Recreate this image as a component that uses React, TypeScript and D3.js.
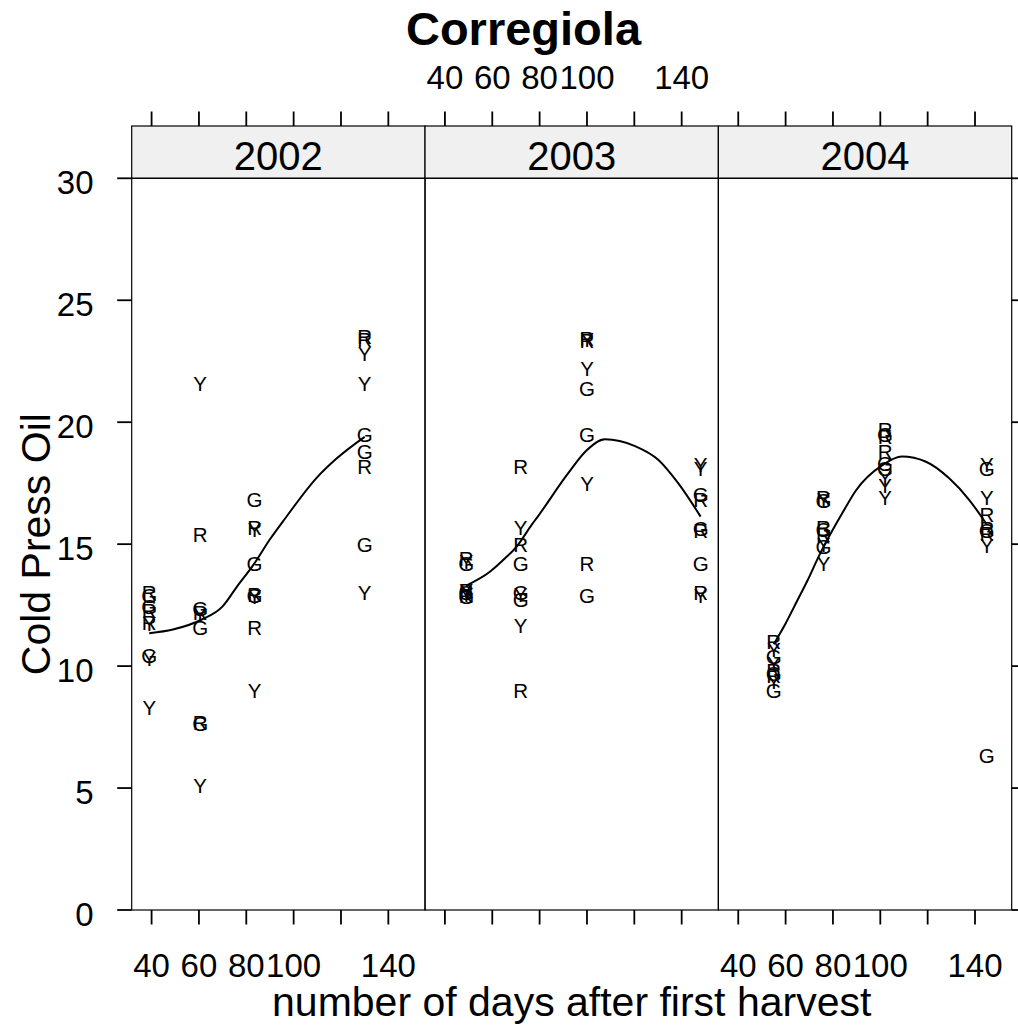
import React from "react";
import * as d3 from "d3";

const years = ["2002", "2003", "2004"];
const colourCodes = ["R", "G", "Y"];

const xTickValues = [40, 60, 80, 100, 120, 140];
const xTickLabels = ["40", "60", "80", "100", "", "140"];
const yTickValues = [0, 5, 10, 15, 20, 25, 30];

// harvest days (x) of the four sampling dates per year
const days2002 = [39, 60.5, 83.5, 130];
const days2003 = [49, 72, 100, 148];
const days2004 = [55, 76, 102, 145];

// cold press oil values per sampling date, by colour code
const red2002 = [[13.0, 12.3, 11.8], [15.4, 12.2, 7.7], [15.7, 12.95, 11.6], [23.5, 23.4, 18.2]];
const green2002 = [[12.9, 12.45, 10.45], [12.35, 11.6, 7.65], [16.85, 14.2, 12.9], [19.5, 18.8, 15.0]];
const yellow2002 = [[11.75, 10.3, 8.3], [21.6, 12.1, 5.1], [15.6, 12.85, 9.0], [22.8, 21.6, 13.0]];

const red2003 = [[14.4, 13.1, 12.9], [18.2, 15.0, 9.0], [23.45, 23.35, 14.2], [16.85, 15.55, 13.0]];
const green2003 = [[14.2, 13.0, 12.85], [14.2, 13.0, 12.75], [21.4, 19.5, 12.9], [17.05, 15.65, 14.2]];
const yellow2003 = [[14.3, 13.1, 12.95], [15.7, 12.95, 11.65], [23.4, 22.2, 17.5], [18.25, 18.1, 12.9]];

const red2004 = [[11.0, 9.8, 9.6], [16.9, 15.7, 15.4], [19.7, 19.4, 18.8], [16.2, 15.65, 15.45]];
const green2004 = [[10.4, 9.7, 9.0], [16.8, 15.6, 14.9], [19.5, 18.3, 18.1], [18.1, 15.55, 6.35]];
const yellow2004 = [[10.7, 10.1, 9.35], [16.85, 15.0, 14.2], [17.75, 17.4, 16.9], [18.25, 16.9, 14.95]];

// smooth (loess) curve
const curveDays2002 = [39, 49, 61, 70, 76, 83, 90, 96, 110, 118, 130];
const curveVals2002 = [11.35, 11.5, 11.9, 12.45, 13.25, 14.15, 15.2, 16.0, 17.75, 18.5, 19.4];
const curveDays2003 = [49, 59, 65.4, 70.3, 76.7, 79, 92, 100, 107.6, 120.3, 130.2, 138.6, 148];
const curveVals2003 = [13.3, 13.87, 14.42, 14.9, 15.8, 16.1, 17.9, 18.86, 19.3, 19.02, 18.45, 17.49, 16.13];
const curveDays2004 = [55, 60, 65, 69.2, 74, 84.7, 89.7, 100.9, 109.1, 119.3, 129.1, 137.6, 145];
const curveVals2004 = [10.9, 11.75, 12.7, 13.5, 14.5, 16.4, 17.2, 18.24, 18.59, 18.38, 17.7, 16.81, 15.8];

const panelDays = [days2002, days2003, days2004];
const panelSeries = [
  [red2002, green2002, yellow2002],
  [red2003, green2003, yellow2003],
  [red2004, green2004, yellow2004],
];
const panelCurveDays = [curveDays2002, curveDays2003, curveDays2004];
const panelCurveVals = [curveVals2002, curveVals2003, curveVals2004];

const FONT = "'Liberation Sans', Arial, Helvetica, sans-serif";

export default function App() {
  const W = 1018;
  const H = 1032;
  const panelLeft = 131.7;
  const panelRight = 1011.7;
  const panelTop = 178.3;
  const panelBottom = 910;
  const stripTop = 126;
  const tickLen = 14.5;
  const tickFont = 33;

  const band = d3.scaleBand<string>().domain(years).range([panelLeft, panelRight]).paddingInner(0).paddingOuter(0);
  const pw = band.bandwidth();
  const y = d3.scaleLinear().domain([0, 30]).range([panelBottom, panelTop]);
  const xDomain: [number, number] = [31.6, 155.5];

  return (
    <svg width={W} height={H} style={{ position: "absolute", left: 0, top: 0, background: "#fff" }} fontFamily={FONT}>
      <rect x={0} y={0} width={W} height={H} fill="#fff" />
      {/* title */}
      <text x={523.5} y={45} textAnchor="middle" fontSize={47} fontWeight="bold">Corregiola</text>

      {years.map((yr, pi) => {
        const x0 = band(yr)!;
        const x = d3.scaleLinear().domain(xDomain).range([x0, x0 + pw]);
        const line = d3
          .line<number>()
          .x((_, i) => x(panelCurveDays[pi][i]))
          .y((d) => y(d))
          .curve(d3.curveMonotoneX);
        const pts: { d: number; v: number; c: string }[] = [];
        panelDays[pi].forEach((d, gi) => {
          colourCodes.forEach((c, ci) => {
            panelSeries[pi][ci][gi].forEach((v) => pts.push({ d, v, c }));
          });
        });
        return (
          <g key={yr}>
            {/* strip */}
            <rect x={x0} y={stripTop} width={pw} height={panelTop - stripTop} fill="#f0f0f0" stroke="#000" strokeWidth={1.2} />
            <text x={x0 + pw / 2} y={170} textAnchor="middle" fontSize={40}>{yr}</text>
            {/* panel */}
            <rect x={x0} y={panelTop} width={pw} height={panelBottom - panelTop} fill="none" stroke="#000" strokeWidth={1.2} />
            {/* top ticks */}
            {xTickValues.map((t) => (
              <line key={"tt" + t} x1={x(t)} x2={x(t)} y1={stripTop} y2={stripTop - tickLen} stroke="#000" strokeWidth={1.8} />
            ))}
            {/* bottom ticks */}
            {xTickValues.map((t) => (
              <line key={"bt" + t} x1={x(t)} x2={x(t)} y1={panelBottom} y2={panelBottom + tickLen} stroke="#000" strokeWidth={1.8} />
            ))}
            {pi === 1 &&
              xTickValues.map((t, i) => (
                <text key={"tl" + t} x={x(t)} y={89.3} textAnchor="middle" fontSize={tickFont}>{xTickLabels[i]}</text>
              ))}
            {pi !== 1 &&
              xTickValues.map((t, i) => (
                <text key={"bl" + t} x={x(t)} y={976.5} textAnchor="middle" fontSize={tickFont}>{xTickLabels[i]}</text>
              ))}
            {/* points */}
            {pts.map((p, i) => (
              <text key={"p" + i} x={x(p.d)} y={y(p.v)} textAnchor="middle" dominantBaseline="central" fontSize={20.5}>{p.c}</text>
            ))}
            {/* smooth */}
            <path d={line(panelCurveVals[pi]) || ""} fill="none" stroke="#000" strokeWidth={2} />
          </g>
        );
      })}

      {/* y axis left */}
      {yTickValues.map((t) => (
        <g key={"yl" + t}>
          <line x1={panelLeft} x2={panelLeft - tickLen} y1={y(t)} y2={y(t)} stroke="#000" strokeWidth={1.8} />
          <text x={93.5} y={y(t) + 16} textAnchor="end" fontSize={tickFont}>{t}</text>
        </g>
      ))}
      {/* y axis right ticks */}
      {yTickValues.map((t) => (
        <line key={"yr" + t} x1={panelRight} x2={panelRight + tickLen} y1={y(t)} y2={y(t)} stroke="#000" strokeWidth={1.8} />
      ))}

      {/* axis titles */}
      <text x={(panelLeft + panelRight) / 2} y={1016} textAnchor="middle" fontSize={41}>number of days after first harvest</text>
      <text transform={`translate(50,${(panelTop + panelBottom) / 2}) rotate(-90)`} textAnchor="middle" fontSize={41}>Cold Press Oil</text>
    </svg>
  );
}
